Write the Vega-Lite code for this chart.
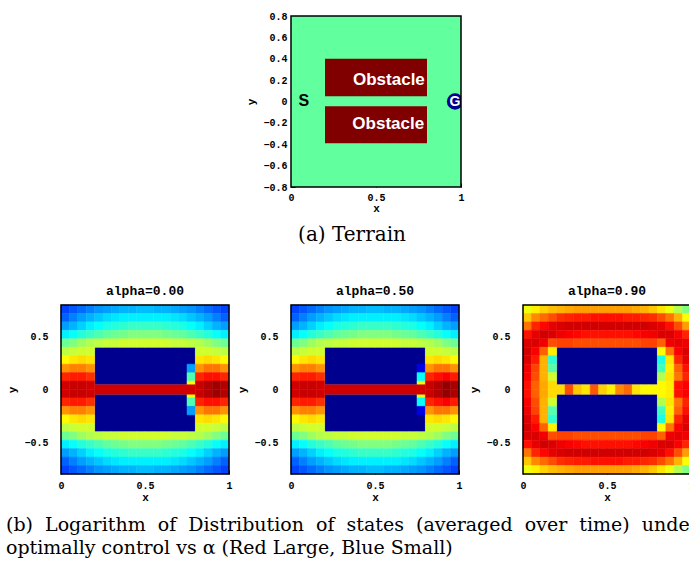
{
"$schema":"https://vega.github.io/schema/vega-lite/v6.json",
"background":"white",
"padding":{"left":5,"top":11,"right":0,"bottom":0},
"title":{"text":["(b) \u00a0Logarithm \u00a0of \u00a0Distribution \u00a0of \u00a0states \u00a0(averaged \u00a0over \u00a0time) \u00a0under","optimally control vs α (Red Large, Blue Small)"],"orient":"bottom","anchor":"start","font":"DejaVu Serif","fontSize":19,"fontWeight":"normal","lineHeight":23,"offset":14,"dx":-1,"color":"black"},
"columns":3,
"align":"each",
"spacing":{"row":40,"column":3},
"resolve":{"scale":{"color":"independent"}},
"datasets":{
"terrain":[{"kind":"free","x":0,"x2":1,"y":-0.8,"y2":0.8},{"kind":"obstacle","x":0.2,"x2":0.8,"y":0.05,"y2":0.4},{"kind":"obstacle","x":0.2,"x2":0.8,"y":-0.39,"y2":-0.045}],
"tlab":[{"x":0.576,"y":0.205,"t":"Obstacle"},{"x":0.572,"y":-0.21,"t":"Obstacle"}],
"start":[{"x":0.075,"y":0.005,"t":"S"}],
"goal":[{"x":0.965,"y":0,"t":"G"}],
"frame":[{"x":0,"x2":1,"y":-0.8,"y2":0.8}],
"obst":[{"x":0.2,"x2":0.8,"y":0.045,"y2":0.4,"v":0},{"x":0.2,"x2":0.8,"y":-0.4,"y2":-0.045,"v":0}],
"ch0":[{"x":0.2,"x2":0.8,"y":-0.045,"y2":0.045,"v":92}],
"ch9":[{"x":0.2,"x2":0.25,"y":-0.045,"y2":0.045,"v":66},{"x":0.25,"x2":0.3,"y":-0.045,"y2":0.045,"v":80},{"x":0.3,"x2":0.35,"y":-0.045,"y2":0.045,"v":68},{"x":0.35,"x2":0.4,"y":-0.045,"y2":0.045,"v":65},{"x":0.4,"x2":0.45,"y":-0.045,"y2":0.045,"v":79},{"x":0.45,"x2":0.5,"y":-0.045,"y2":0.045,"v":67},{"x":0.5,"x2":0.55,"y":-0.045,"y2":0.045,"v":64},{"x":0.55,"x2":0.6,"y":-0.045,"y2":0.045,"v":74},{"x":0.6,"x2":0.65,"y":-0.045,"y2":0.045,"v":77},{"x":0.65,"x2":0.7,"y":-0.045,"y2":0.045,"v":65},{"x":0.7,"x2":0.75,"y":-0.045,"y2":0.045,"v":63},{"x":0.75,"x2":0.8,"y":-0.045,"y2":0.045,"v":63}],
"a0":[
{"c":0,"r":0,"v":19},{"c":1,"r":0,"v":21},{"c":2,"r":0,"v":23},{"c":3,"r":0,"v":25},{"c":4,"r":0,"v":27},{"c":5,"r":0,"v":28},{"c":6,"r":0,"v":29},{"c":7,"r":0,"v":30},{"c":8,"r":0,"v":30},{"c":9,"r":0,"v":31},{"c":10,"r":0,"v":31},{"c":11,"r":0,"v":30},{"c":12,"r":0,"v":30},{"c":13,"r":0,"v":29},{"c":14,"r":0,"v":28},{"c":15,"r":0,"v":27},{"c":16,"r":0,"v":25},{"c":17,"r":0,"v":23},{"c":18,"r":0,"v":21},{"c":19,"r":0,"v":19},
{"c":0,"r":1,"v":22},{"c":1,"r":1,"v":25},{"c":2,"r":1,"v":28},{"c":3,"r":1,"v":30},{"c":4,"r":1,"v":32},{"c":5,"r":1,"v":34},{"c":6,"r":1,"v":35},{"c":7,"r":1,"v":36},{"c":8,"r":1,"v":36},{"c":9,"r":1,"v":36},{"c":10,"r":1,"v":36},{"c":11,"r":1,"v":36},{"c":12,"r":1,"v":36},{"c":13,"r":1,"v":35},{"c":14,"r":1,"v":34},{"c":15,"r":1,"v":32},{"c":16,"r":1,"v":30},{"c":17,"r":1,"v":28},{"c":18,"r":1,"v":25},{"c":19,"r":1,"v":22},
{"c":0,"r":2,"v":28},{"c":1,"r":2,"v":30},{"c":2,"r":2,"v":33},{"c":3,"r":2,"v":36},{"c":4,"r":2,"v":38},{"c":5,"r":2,"v":40},{"c":6,"r":2,"v":41},{"c":7,"r":2,"v":42},{"c":8,"r":2,"v":43},{"c":9,"r":2,"v":43},{"c":10,"r":2,"v":43},{"c":11,"r":2,"v":43},{"c":12,"r":2,"v":42},{"c":13,"r":2,"v":41},{"c":14,"r":2,"v":40},{"c":15,"r":2,"v":38},{"c":16,"r":2,"v":36},{"c":17,"r":2,"v":33},{"c":18,"r":2,"v":30},{"c":19,"r":2,"v":28},
{"c":0,"r":3,"v":36},{"c":1,"r":3,"v":38},{"c":2,"r":3,"v":41},{"c":3,"r":3,"v":43},{"c":4,"r":3,"v":45},{"c":5,"r":3,"v":47},{"c":6,"r":3,"v":48},{"c":7,"r":3,"v":49},{"c":8,"r":3,"v":50},{"c":9,"r":3,"v":50},{"c":10,"r":3,"v":50},{"c":11,"r":3,"v":50},{"c":12,"r":3,"v":49},{"c":13,"r":3,"v":48},{"c":14,"r":3,"v":47},{"c":15,"r":3,"v":45},{"c":16,"r":3,"v":43},{"c":17,"r":3,"v":41},{"c":18,"r":3,"v":38},{"c":19,"r":3,"v":36},
{"c":0,"r":4,"v":48},{"c":1,"r":4,"v":50},{"c":2,"r":4,"v":53},{"c":3,"r":4,"v":55},{"c":4,"r":4,"v":56},{"c":5,"r":4,"v":57},{"c":6,"r":4,"v":57},{"c":7,"r":4,"v":58},{"c":8,"r":4,"v":58},{"c":9,"r":4,"v":58},{"c":10,"r":4,"v":58},{"c":11,"r":4,"v":58},{"c":12,"r":4,"v":58},{"c":13,"r":4,"v":57},{"c":14,"r":4,"v":57},{"c":15,"r":4,"v":56},{"c":16,"r":4,"v":55},{"c":17,"r":4,"v":53},{"c":18,"r":4,"v":50},{"c":19,"r":4,"v":48},
{"c":0,"r":5,"v":56},{"c":1,"r":5,"v":57},{"c":2,"r":5,"v":58},{"c":3,"r":5,"v":58},{"c":16,"r":5,"v":58},{"c":17,"r":5,"v":58},{"c":18,"r":5,"v":57},{"c":19,"r":5,"v":56},
{"c":0,"r":6,"v":63},{"c":1,"r":6,"v":65},{"c":2,"r":6,"v":66},{"c":3,"r":6,"v":65},{"c":16,"r":6,"v":65},{"c":17,"r":6,"v":66},{"c":18,"r":6,"v":65},{"c":19,"r":6,"v":63},
{"c":0,"r":7,"v":73},{"c":1,"r":7,"v":75},{"c":2,"r":7,"v":75},{"c":3,"r":7,"v":73},{"c":15,"r":7,"v":28},{"c":16,"r":7,"v":73},{"c":17,"r":7,"v":76},{"c":18,"r":7,"v":76},{"c":19,"r":7,"v":73},
{"c":0,"r":8,"v":84},{"c":1,"r":8,"v":85},{"c":2,"r":8,"v":85},{"c":3,"r":8,"v":83},{"c":15,"r":8,"v":45},{"c":16,"r":8,"v":84},{"c":17,"r":8,"v":86},{"c":18,"r":8,"v":86},{"c":19,"r":8,"v":84},
{"c":0,"r":9,"v":92},{"c":1,"r":9,"v":93},{"c":2,"r":9,"v":93},{"c":3,"r":9,"v":92},{"c":15,"r":9,"v":62},{"c":16,"r":9,"v":93},{"c":17,"r":9,"v":95},{"c":18,"r":9,"v":97},{"c":19,"r":9,"v":95},
{"c":0,"r":10,"v":92},{"c":1,"r":10,"v":93},{"c":2,"r":10,"v":93},{"c":3,"r":10,"v":92},{"c":15,"r":10,"v":62},{"c":16,"r":10,"v":93},{"c":17,"r":10,"v":95},{"c":18,"r":10,"v":97},{"c":19,"r":10,"v":95},
{"c":0,"r":11,"v":84},{"c":1,"r":11,"v":85},{"c":2,"r":11,"v":85},{"c":3,"r":11,"v":83},{"c":15,"r":11,"v":45},{"c":16,"r":11,"v":84},{"c":17,"r":11,"v":86},{"c":18,"r":11,"v":86},{"c":19,"r":11,"v":84},
{"c":0,"r":12,"v":73},{"c":1,"r":12,"v":75},{"c":2,"r":12,"v":75},{"c":3,"r":12,"v":73},{"c":15,"r":12,"v":28},{"c":16,"r":12,"v":73},{"c":17,"r":12,"v":76},{"c":18,"r":12,"v":76},{"c":19,"r":12,"v":73},
{"c":0,"r":13,"v":63},{"c":1,"r":13,"v":65},{"c":2,"r":13,"v":66},{"c":3,"r":13,"v":65},{"c":16,"r":13,"v":65},{"c":17,"r":13,"v":66},{"c":18,"r":13,"v":65},{"c":19,"r":13,"v":63},
{"c":0,"r":14,"v":56},{"c":1,"r":14,"v":57},{"c":2,"r":14,"v":58},{"c":3,"r":14,"v":58},{"c":16,"r":14,"v":58},{"c":17,"r":14,"v":58},{"c":18,"r":14,"v":57},{"c":19,"r":14,"v":56},
{"c":0,"r":15,"v":48},{"c":1,"r":15,"v":50},{"c":2,"r":15,"v":53},{"c":3,"r":15,"v":55},{"c":4,"r":15,"v":56},{"c":5,"r":15,"v":57},{"c":6,"r":15,"v":57},{"c":7,"r":15,"v":58},{"c":8,"r":15,"v":58},{"c":9,"r":15,"v":58},{"c":10,"r":15,"v":58},{"c":11,"r":15,"v":58},{"c":12,"r":15,"v":58},{"c":13,"r":15,"v":57},{"c":14,"r":15,"v":57},{"c":15,"r":15,"v":56},{"c":16,"r":15,"v":55},{"c":17,"r":15,"v":53},{"c":18,"r":15,"v":50},{"c":19,"r":15,"v":48},
{"c":0,"r":16,"v":36},{"c":1,"r":16,"v":38},{"c":2,"r":16,"v":41},{"c":3,"r":16,"v":43},{"c":4,"r":16,"v":45},{"c":5,"r":16,"v":47},{"c":6,"r":16,"v":48},{"c":7,"r":16,"v":49},{"c":8,"r":16,"v":50},{"c":9,"r":16,"v":50},{"c":10,"r":16,"v":50},{"c":11,"r":16,"v":50},{"c":12,"r":16,"v":49},{"c":13,"r":16,"v":48},{"c":14,"r":16,"v":47},{"c":15,"r":16,"v":45},{"c":16,"r":16,"v":43},{"c":17,"r":16,"v":41},{"c":18,"r":16,"v":38},{"c":19,"r":16,"v":36},
{"c":0,"r":17,"v":28},{"c":1,"r":17,"v":30},{"c":2,"r":17,"v":33},{"c":3,"r":17,"v":36},{"c":4,"r":17,"v":38},{"c":5,"r":17,"v":40},{"c":6,"r":17,"v":41},{"c":7,"r":17,"v":42},{"c":8,"r":17,"v":43},{"c":9,"r":17,"v":43},{"c":10,"r":17,"v":43},{"c":11,"r":17,"v":43},{"c":12,"r":17,"v":42},{"c":13,"r":17,"v":41},{"c":14,"r":17,"v":40},{"c":15,"r":17,"v":38},{"c":16,"r":17,"v":36},{"c":17,"r":17,"v":33},{"c":18,"r":17,"v":30},{"c":19,"r":17,"v":28},
{"c":0,"r":18,"v":22},{"c":1,"r":18,"v":25},{"c":2,"r":18,"v":28},{"c":3,"r":18,"v":30},{"c":4,"r":18,"v":32},{"c":5,"r":18,"v":34},{"c":6,"r":18,"v":35},{"c":7,"r":18,"v":36},{"c":8,"r":18,"v":36},{"c":9,"r":18,"v":36},{"c":10,"r":18,"v":36},{"c":11,"r":18,"v":36},{"c":12,"r":18,"v":36},{"c":13,"r":18,"v":35},{"c":14,"r":18,"v":34},{"c":15,"r":18,"v":32},{"c":16,"r":18,"v":30},{"c":17,"r":18,"v":28},{"c":18,"r":18,"v":25},{"c":19,"r":18,"v":22},
{"c":0,"r":19,"v":19},{"c":1,"r":19,"v":21},{"c":2,"r":19,"v":23},{"c":3,"r":19,"v":25},{"c":4,"r":19,"v":27},{"c":5,"r":19,"v":28},{"c":6,"r":19,"v":29},{"c":7,"r":19,"v":30},{"c":8,"r":19,"v":30},{"c":9,"r":19,"v":31},{"c":10,"r":19,"v":31},{"c":11,"r":19,"v":30},{"c":12,"r":19,"v":30},{"c":13,"r":19,"v":29},{"c":14,"r":19,"v":28},{"c":15,"r":19,"v":27},{"c":16,"r":19,"v":25},{"c":17,"r":19,"v":23},{"c":18,"r":19,"v":21},{"c":19,"r":19,"v":19}
],
"a5":[
{"c":0,"r":0,"v":19},{"c":1,"r":0,"v":21},{"c":2,"r":0,"v":23},{"c":3,"r":0,"v":25},{"c":4,"r":0,"v":27},{"c":5,"r":0,"v":28},{"c":6,"r":0,"v":29},{"c":7,"r":0,"v":30},{"c":8,"r":0,"v":30},{"c":9,"r":0,"v":31},{"c":10,"r":0,"v":31},{"c":11,"r":0,"v":30},{"c":12,"r":0,"v":30},{"c":13,"r":0,"v":29},{"c":14,"r":0,"v":28},{"c":15,"r":0,"v":27},{"c":16,"r":0,"v":25},{"c":17,"r":0,"v":23},{"c":18,"r":0,"v":21},{"c":19,"r":0,"v":19},
{"c":0,"r":1,"v":22},{"c":1,"r":1,"v":25},{"c":2,"r":1,"v":28},{"c":3,"r":1,"v":30},{"c":4,"r":1,"v":32},{"c":5,"r":1,"v":34},{"c":6,"r":1,"v":35},{"c":7,"r":1,"v":36},{"c":8,"r":1,"v":36},{"c":9,"r":1,"v":36},{"c":10,"r":1,"v":36},{"c":11,"r":1,"v":36},{"c":12,"r":1,"v":36},{"c":13,"r":1,"v":35},{"c":14,"r":1,"v":34},{"c":15,"r":1,"v":32},{"c":16,"r":1,"v":30},{"c":17,"r":1,"v":28},{"c":18,"r":1,"v":25},{"c":19,"r":1,"v":22},
{"c":0,"r":2,"v":28},{"c":1,"r":2,"v":30},{"c":2,"r":2,"v":33},{"c":3,"r":2,"v":36},{"c":4,"r":2,"v":38},{"c":5,"r":2,"v":40},{"c":6,"r":2,"v":41},{"c":7,"r":2,"v":42},{"c":8,"r":2,"v":43},{"c":9,"r":2,"v":43},{"c":10,"r":2,"v":43},{"c":11,"r":2,"v":43},{"c":12,"r":2,"v":42},{"c":13,"r":2,"v":41},{"c":14,"r":2,"v":40},{"c":15,"r":2,"v":38},{"c":16,"r":2,"v":36},{"c":17,"r":2,"v":33},{"c":18,"r":2,"v":30},{"c":19,"r":2,"v":28},
{"c":0,"r":3,"v":36},{"c":1,"r":3,"v":38},{"c":2,"r":3,"v":41},{"c":3,"r":3,"v":43},{"c":4,"r":3,"v":45},{"c":5,"r":3,"v":47},{"c":6,"r":3,"v":48},{"c":7,"r":3,"v":49},{"c":8,"r":3,"v":50},{"c":9,"r":3,"v":50},{"c":10,"r":3,"v":50},{"c":11,"r":3,"v":50},{"c":12,"r":3,"v":49},{"c":13,"r":3,"v":48},{"c":14,"r":3,"v":47},{"c":15,"r":3,"v":45},{"c":16,"r":3,"v":43},{"c":17,"r":3,"v":41},{"c":18,"r":3,"v":38},{"c":19,"r":3,"v":36},
{"c":0,"r":4,"v":48},{"c":1,"r":4,"v":50},{"c":2,"r":4,"v":53},{"c":3,"r":4,"v":55},{"c":4,"r":4,"v":56},{"c":5,"r":4,"v":57},{"c":6,"r":4,"v":57},{"c":7,"r":4,"v":58},{"c":8,"r":4,"v":58},{"c":9,"r":4,"v":58},{"c":10,"r":4,"v":58},{"c":11,"r":4,"v":58},{"c":12,"r":4,"v":58},{"c":13,"r":4,"v":57},{"c":14,"r":4,"v":57},{"c":15,"r":4,"v":56},{"c":16,"r":4,"v":55},{"c":17,"r":4,"v":53},{"c":18,"r":4,"v":50},{"c":19,"r":4,"v":48},
{"c":0,"r":5,"v":56},{"c":1,"r":5,"v":57},{"c":2,"r":5,"v":58},{"c":3,"r":5,"v":58},{"c":16,"r":5,"v":58},{"c":17,"r":5,"v":58},{"c":18,"r":5,"v":57},{"c":19,"r":5,"v":56},
{"c":0,"r":6,"v":63},{"c":1,"r":6,"v":65},{"c":2,"r":6,"v":66},{"c":3,"r":6,"v":65},{"c":16,"r":6,"v":65},{"c":17,"r":6,"v":66},{"c":18,"r":6,"v":65},{"c":19,"r":6,"v":63},
{"c":0,"r":7,"v":73},{"c":1,"r":7,"v":75},{"c":2,"r":7,"v":75},{"c":3,"r":7,"v":73},{"c":15,"r":7,"v":10},{"c":16,"r":7,"v":73},{"c":17,"r":7,"v":76},{"c":18,"r":7,"v":76},{"c":19,"r":7,"v":73},
{"c":0,"r":8,"v":84},{"c":1,"r":8,"v":85},{"c":2,"r":8,"v":85},{"c":3,"r":8,"v":83},{"c":15,"r":8,"v":38},{"c":16,"r":8,"v":84},{"c":17,"r":8,"v":86},{"c":18,"r":8,"v":88},{"c":19,"r":8,"v":85},
{"c":0,"r":9,"v":92},{"c":1,"r":9,"v":93},{"c":2,"r":9,"v":93},{"c":3,"r":9,"v":92},{"c":15,"r":9,"v":60},{"c":16,"r":9,"v":93},{"c":17,"r":9,"v":95},{"c":18,"r":9,"v":98},{"c":19,"r":9,"v":96},
{"c":0,"r":10,"v":92},{"c":1,"r":10,"v":93},{"c":2,"r":10,"v":93},{"c":3,"r":10,"v":92},{"c":15,"r":10,"v":60},{"c":16,"r":10,"v":93},{"c":17,"r":10,"v":95},{"c":18,"r":10,"v":98},{"c":19,"r":10,"v":96},
{"c":0,"r":11,"v":84},{"c":1,"r":11,"v":85},{"c":2,"r":11,"v":85},{"c":3,"r":11,"v":83},{"c":15,"r":11,"v":38},{"c":16,"r":11,"v":84},{"c":17,"r":11,"v":86},{"c":18,"r":11,"v":88},{"c":19,"r":11,"v":85},
{"c":0,"r":12,"v":73},{"c":1,"r":12,"v":75},{"c":2,"r":12,"v":75},{"c":3,"r":12,"v":73},{"c":15,"r":12,"v":10},{"c":16,"r":12,"v":73},{"c":17,"r":12,"v":76},{"c":18,"r":12,"v":76},{"c":19,"r":12,"v":73},
{"c":0,"r":13,"v":63},{"c":1,"r":13,"v":65},{"c":2,"r":13,"v":66},{"c":3,"r":13,"v":65},{"c":16,"r":13,"v":65},{"c":17,"r":13,"v":66},{"c":18,"r":13,"v":65},{"c":19,"r":13,"v":63},
{"c":0,"r":14,"v":56},{"c":1,"r":14,"v":57},{"c":2,"r":14,"v":58},{"c":3,"r":14,"v":58},{"c":16,"r":14,"v":58},{"c":17,"r":14,"v":58},{"c":18,"r":14,"v":57},{"c":19,"r":14,"v":56},
{"c":0,"r":15,"v":48},{"c":1,"r":15,"v":50},{"c":2,"r":15,"v":53},{"c":3,"r":15,"v":55},{"c":4,"r":15,"v":56},{"c":5,"r":15,"v":57},{"c":6,"r":15,"v":57},{"c":7,"r":15,"v":58},{"c":8,"r":15,"v":58},{"c":9,"r":15,"v":58},{"c":10,"r":15,"v":58},{"c":11,"r":15,"v":58},{"c":12,"r":15,"v":58},{"c":13,"r":15,"v":57},{"c":14,"r":15,"v":57},{"c":15,"r":15,"v":56},{"c":16,"r":15,"v":55},{"c":17,"r":15,"v":53},{"c":18,"r":15,"v":50},{"c":19,"r":15,"v":48},
{"c":0,"r":16,"v":36},{"c":1,"r":16,"v":38},{"c":2,"r":16,"v":41},{"c":3,"r":16,"v":43},{"c":4,"r":16,"v":45},{"c":5,"r":16,"v":47},{"c":6,"r":16,"v":48},{"c":7,"r":16,"v":49},{"c":8,"r":16,"v":50},{"c":9,"r":16,"v":50},{"c":10,"r":16,"v":50},{"c":11,"r":16,"v":50},{"c":12,"r":16,"v":49},{"c":13,"r":16,"v":48},{"c":14,"r":16,"v":47},{"c":15,"r":16,"v":45},{"c":16,"r":16,"v":43},{"c":17,"r":16,"v":41},{"c":18,"r":16,"v":38},{"c":19,"r":16,"v":36},
{"c":0,"r":17,"v":28},{"c":1,"r":17,"v":30},{"c":2,"r":17,"v":33},{"c":3,"r":17,"v":36},{"c":4,"r":17,"v":38},{"c":5,"r":17,"v":40},{"c":6,"r":17,"v":41},{"c":7,"r":17,"v":42},{"c":8,"r":17,"v":43},{"c":9,"r":17,"v":43},{"c":10,"r":17,"v":43},{"c":11,"r":17,"v":43},{"c":12,"r":17,"v":42},{"c":13,"r":17,"v":41},{"c":14,"r":17,"v":40},{"c":15,"r":17,"v":38},{"c":16,"r":17,"v":36},{"c":17,"r":17,"v":33},{"c":18,"r":17,"v":30},{"c":19,"r":17,"v":28},
{"c":0,"r":18,"v":22},{"c":1,"r":18,"v":25},{"c":2,"r":18,"v":28},{"c":3,"r":18,"v":30},{"c":4,"r":18,"v":32},{"c":5,"r":18,"v":34},{"c":6,"r":18,"v":35},{"c":7,"r":18,"v":36},{"c":8,"r":18,"v":36},{"c":9,"r":18,"v":36},{"c":10,"r":18,"v":36},{"c":11,"r":18,"v":36},{"c":12,"r":18,"v":36},{"c":13,"r":18,"v":35},{"c":14,"r":18,"v":34},{"c":15,"r":18,"v":32},{"c":16,"r":18,"v":30},{"c":17,"r":18,"v":28},{"c":18,"r":18,"v":25},{"c":19,"r":18,"v":22},
{"c":0,"r":19,"v":19},{"c":1,"r":19,"v":21},{"c":2,"r":19,"v":23},{"c":3,"r":19,"v":25},{"c":4,"r":19,"v":27},{"c":5,"r":19,"v":28},{"c":6,"r":19,"v":29},{"c":7,"r":19,"v":30},{"c":8,"r":19,"v":30},{"c":9,"r":19,"v":31},{"c":10,"r":19,"v":31},{"c":11,"r":19,"v":30},{"c":12,"r":19,"v":30},{"c":13,"r":19,"v":29},{"c":14,"r":19,"v":28},{"c":15,"r":19,"v":27},{"c":16,"r":19,"v":25},{"c":17,"r":19,"v":23},{"c":18,"r":19,"v":21},{"c":19,"r":19,"v":19}
],
"a9":[
{"c":0,"r":0,"v":61},{"c":1,"r":0,"v":64},{"c":2,"r":0,"v":67},{"c":3,"r":0,"v":69},{"c":4,"r":0,"v":70},{"c":5,"r":0,"v":71},{"c":6,"r":0,"v":72},{"c":7,"r":0,"v":72},{"c":8,"r":0,"v":72},{"c":9,"r":0,"v":72},{"c":10,"r":0,"v":72},{"c":11,"r":0,"v":72},{"c":12,"r":0,"v":72},{"c":13,"r":0,"v":71},{"c":14,"r":0,"v":70},{"c":15,"r":0,"v":68},{"c":16,"r":0,"v":65},{"c":17,"r":0,"v":61},{"c":18,"r":0,"v":55},{"c":19,"r":0,"v":50},
{"c":0,"r":1,"v":68},{"c":1,"r":1,"v":74},{"c":2,"r":1,"v":77},{"c":3,"r":1,"v":80},{"c":4,"r":1,"v":83},{"c":5,"r":1,"v":84},{"c":6,"r":1,"v":85},{"c":7,"r":1,"v":85},{"c":8,"r":1,"v":86},{"c":9,"r":1,"v":86},{"c":10,"r":1,"v":86},{"c":11,"r":1,"v":86},{"c":12,"r":1,"v":85},{"c":13,"r":1,"v":85},{"c":14,"r":1,"v":84},{"c":15,"r":1,"v":83},{"c":16,"r":1,"v":80},{"c":17,"r":1,"v":76},{"c":18,"r":1,"v":70},{"c":19,"r":1,"v":62},
{"c":0,"r":2,"v":76},{"c":1,"r":2,"v":84},{"c":2,"r":2,"v":87},{"c":3,"r":2,"v":90},{"c":4,"r":2,"v":91},{"c":5,"r":2,"v":92},{"c":6,"r":2,"v":92},{"c":7,"r":2,"v":92},{"c":8,"r":2,"v":92},{"c":9,"r":2,"v":92},{"c":10,"r":2,"v":92},{"c":11,"r":2,"v":92},{"c":12,"r":2,"v":92},{"c":13,"r":2,"v":92},{"c":14,"r":2,"v":92},{"c":15,"r":2,"v":91},{"c":16,"r":2,"v":90},{"c":17,"r":2,"v":86},{"c":18,"r":2,"v":80},{"c":19,"r":2,"v":72},
{"c":0,"r":3,"v":86},{"c":1,"r":3,"v":90},{"c":2,"r":3,"v":92},{"c":3,"r":3,"v":91},{"c":4,"r":3,"v":89},{"c":5,"r":3,"v":88},{"c":6,"r":3,"v":87},{"c":7,"r":3,"v":86},{"c":8,"r":3,"v":86},{"c":9,"r":3,"v":86},{"c":10,"r":3,"v":86},{"c":11,"r":3,"v":86},{"c":12,"r":3,"v":86},{"c":13,"r":3,"v":87},{"c":14,"r":3,"v":88},{"c":15,"r":3,"v":89},{"c":16,"r":3,"v":91},{"c":17,"r":3,"v":91},{"c":18,"r":3,"v":88},{"c":19,"r":3,"v":84},
{"c":0,"r":4,"v":91},{"c":1,"r":4,"v":91},{"c":2,"r":4,"v":89},{"c":3,"r":4,"v":80},{"c":4,"r":4,"v":81},{"c":5,"r":4,"v":81},{"c":6,"r":4,"v":80},{"c":7,"r":4,"v":80},{"c":8,"r":4,"v":80},{"c":9,"r":4,"v":80},{"c":10,"r":4,"v":80},{"c":11,"r":4,"v":80},{"c":12,"r":4,"v":80},{"c":13,"r":4,"v":80},{"c":14,"r":4,"v":81},{"c":15,"r":4,"v":81},{"c":16,"r":4,"v":78},{"c":17,"r":4,"v":89},{"c":18,"r":4,"v":90},{"c":19,"r":4,"v":89},
{"c":0,"r":5,"v":92},{"c":1,"r":5,"v":88},{"c":2,"r":5,"v":78},{"c":3,"r":5,"v":64},{"c":16,"r":5,"v":62},{"c":17,"r":5,"v":76},{"c":18,"r":5,"v":88},{"c":19,"r":5,"v":91},
{"c":0,"r":6,"v":91},{"c":1,"r":6,"v":85},{"c":2,"r":6,"v":70},{"c":3,"r":6,"v":42},{"c":16,"r":6,"v":40},{"c":17,"r":6,"v":65},{"c":18,"r":6,"v":84},{"c":19,"r":6,"v":90},
{"c":0,"r":7,"v":89},{"c":1,"r":7,"v":81},{"c":2,"r":7,"v":70},{"c":3,"r":7,"v":46},{"c":16,"r":7,"v":44},{"c":17,"r":7,"v":64},{"c":18,"r":7,"v":78},{"c":19,"r":7,"v":86},
{"c":0,"r":8,"v":88},{"c":1,"r":8,"v":80},{"c":2,"r":8,"v":70},{"c":3,"r":8,"v":58},{"c":16,"r":8,"v":55},{"c":17,"r":8,"v":65},{"c":18,"r":8,"v":76},{"c":19,"r":8,"v":84},
{"c":0,"r":9,"v":86},{"c":1,"r":9,"v":78},{"c":2,"r":9,"v":71},{"c":3,"r":9,"v":66},{"c":16,"r":9,"v":63},{"c":17,"r":9,"v":64},{"c":18,"r":9,"v":86},{"c":19,"r":9,"v":88},
{"c":0,"r":10,"v":86},{"c":1,"r":10,"v":78},{"c":2,"r":10,"v":71},{"c":3,"r":10,"v":66},{"c":16,"r":10,"v":63},{"c":17,"r":10,"v":64},{"c":18,"r":10,"v":86},{"c":19,"r":10,"v":88},
{"c":0,"r":11,"v":88},{"c":1,"r":11,"v":80},{"c":2,"r":11,"v":70},{"c":3,"r":11,"v":58},{"c":16,"r":11,"v":55},{"c":17,"r":11,"v":65},{"c":18,"r":11,"v":76},{"c":19,"r":11,"v":84},
{"c":0,"r":12,"v":89},{"c":1,"r":12,"v":81},{"c":2,"r":12,"v":70},{"c":3,"r":12,"v":46},{"c":16,"r":12,"v":44},{"c":17,"r":12,"v":64},{"c":18,"r":12,"v":78},{"c":19,"r":12,"v":86},
{"c":0,"r":13,"v":91},{"c":1,"r":13,"v":85},{"c":2,"r":13,"v":70},{"c":3,"r":13,"v":42},{"c":16,"r":13,"v":40},{"c":17,"r":13,"v":65},{"c":18,"r":13,"v":84},{"c":19,"r":13,"v":90},
{"c":0,"r":14,"v":92},{"c":1,"r":14,"v":88},{"c":2,"r":14,"v":78},{"c":3,"r":14,"v":64},{"c":16,"r":14,"v":62},{"c":17,"r":14,"v":76},{"c":18,"r":14,"v":88},{"c":19,"r":14,"v":91},
{"c":0,"r":15,"v":91},{"c":1,"r":15,"v":91},{"c":2,"r":15,"v":89},{"c":3,"r":15,"v":80},{"c":4,"r":15,"v":81},{"c":5,"r":15,"v":81},{"c":6,"r":15,"v":80},{"c":7,"r":15,"v":80},{"c":8,"r":15,"v":80},{"c":9,"r":15,"v":80},{"c":10,"r":15,"v":80},{"c":11,"r":15,"v":80},{"c":12,"r":15,"v":80},{"c":13,"r":15,"v":80},{"c":14,"r":15,"v":81},{"c":15,"r":15,"v":81},{"c":16,"r":15,"v":78},{"c":17,"r":15,"v":89},{"c":18,"r":15,"v":90},{"c":19,"r":15,"v":89},
{"c":0,"r":16,"v":86},{"c":1,"r":16,"v":90},{"c":2,"r":16,"v":92},{"c":3,"r":16,"v":91},{"c":4,"r":16,"v":89},{"c":5,"r":16,"v":88},{"c":6,"r":16,"v":87},{"c":7,"r":16,"v":86},{"c":8,"r":16,"v":86},{"c":9,"r":16,"v":86},{"c":10,"r":16,"v":86},{"c":11,"r":16,"v":86},{"c":12,"r":16,"v":86},{"c":13,"r":16,"v":87},{"c":14,"r":16,"v":88},{"c":15,"r":16,"v":89},{"c":16,"r":16,"v":91},{"c":17,"r":16,"v":91},{"c":18,"r":16,"v":88},{"c":19,"r":16,"v":84},
{"c":0,"r":17,"v":76},{"c":1,"r":17,"v":84},{"c":2,"r":17,"v":87},{"c":3,"r":17,"v":90},{"c":4,"r":17,"v":91},{"c":5,"r":17,"v":92},{"c":6,"r":17,"v":92},{"c":7,"r":17,"v":92},{"c":8,"r":17,"v":92},{"c":9,"r":17,"v":92},{"c":10,"r":17,"v":92},{"c":11,"r":17,"v":92},{"c":12,"r":17,"v":92},{"c":13,"r":17,"v":92},{"c":14,"r":17,"v":92},{"c":15,"r":17,"v":91},{"c":16,"r":17,"v":90},{"c":17,"r":17,"v":86},{"c":18,"r":17,"v":80},{"c":19,"r":17,"v":72},
{"c":0,"r":18,"v":68},{"c":1,"r":18,"v":74},{"c":2,"r":18,"v":77},{"c":3,"r":18,"v":80},{"c":4,"r":18,"v":83},{"c":5,"r":18,"v":84},{"c":6,"r":18,"v":85},{"c":7,"r":18,"v":85},{"c":8,"r":18,"v":86},{"c":9,"r":18,"v":86},{"c":10,"r":18,"v":86},{"c":11,"r":18,"v":86},{"c":12,"r":18,"v":85},{"c":13,"r":18,"v":85},{"c":14,"r":18,"v":84},{"c":15,"r":18,"v":83},{"c":16,"r":18,"v":80},{"c":17,"r":18,"v":76},{"c":18,"r":18,"v":70},{"c":19,"r":18,"v":62},
{"c":0,"r":19,"v":61},{"c":1,"r":19,"v":64},{"c":2,"r":19,"v":67},{"c":3,"r":19,"v":69},{"c":4,"r":19,"v":70},{"c":5,"r":19,"v":71},{"c":6,"r":19,"v":72},{"c":7,"r":19,"v":72},{"c":8,"r":19,"v":72},{"c":9,"r":19,"v":72},{"c":10,"r":19,"v":72},{"c":11,"r":19,"v":72},{"c":12,"r":19,"v":72},{"c":13,"r":19,"v":71},{"c":14,"r":19,"v":70},{"c":15,"r":19,"v":68},{"c":16,"r":19,"v":65},{"c":17,"r":19,"v":61},{"c":18,"r":19,"v":55},{"c":19,"r":19,"v":50}
]
},
"concat":[
{"width":1,"height":1,"data":{"values":[]},"mark":"point"},
{"width":170,"height":171,
 "title":{"text":"(a) Terrain","orient":"bottom","font":"DejaVu Serif","fontSize":20,"fontWeight":"normal","offset":12,"dx":-24,"anchor":"middle"},
 "layer":[
  {"data":{"name":"terrain"},"mark":{"type":"rect"},"encoding":{
   "x":{"field":"x","type":"quantitative","scale":{"domain":[0,1],"nice":false,"zero":false},"axis":{"values":[0,0.5,1],"format":"~g","title":"x","labelFontSize":10,"titleFontSize":11,"labelPadding":9,"titlePadding":0,"tickSize":-4}},
   "x2":{"field":"x2"},
   "y":{"field":"y","type":"quantitative","scale":{"domain":[-0.8,0.8],"nice":false,"zero":false},"axis":{"values":[-0.8,-0.6,-0.4,-0.2,0,0.2,0.4,0.6,0.8],"format":"~g","title":"y","labelFontSize":10,"titleFontSize":11,"labelPadding":8,"titlePadding":6,"tickSize":-4,"labelOverlap":false,"labelSeparation":-30}},
   "y2":{"field":"y2"},
   "color":{"field":"kind","type":"nominal","scale":{"domain":["free","obstacle"],"range":["#62ff9e","#800000"]},"legend":null}}},
  {"data":{"name":"tlab"},"mark":{"type":"text","font":"Liberation Sans","fontWeight":"bold","fontSize":17,"color":"white"},"encoding":{
   "x":{"field":"x","type":"quantitative","scale":{"domain":[0,1],"nice":false,"zero":false},"axis":{"values":[0,0.5,1],"format":"~g","title":"x","labelFontSize":10,"titleFontSize":11,"labelPadding":9,"titlePadding":0,"tickSize":-4}},
   "y":{"field":"y","type":"quantitative","scale":{"domain":[-0.8,0.8],"nice":false,"zero":false},"axis":{"values":[-0.8,-0.6,-0.4,-0.2,0,0.2,0.4,0.6,0.8],"format":"~g","title":"y","labelFontSize":10,"titleFontSize":11,"labelPadding":8,"titlePadding":6,"tickSize":-4,"labelOverlap":false,"labelSeparation":-30}},
   "text":{"field":"t"}}},
  {"data":{"name":"start"},"mark":{"type":"text","font":"Liberation Sans","fontWeight":"bold","fontSize":16,"color":"black"},"encoding":{
   "x":{"field":"x","type":"quantitative","scale":{"domain":[0,1],"nice":false,"zero":false},"axis":{"values":[0,0.5,1],"format":"~g","title":"x","labelFontSize":10,"titleFontSize":11,"labelPadding":9,"titlePadding":0,"tickSize":-4}},
   "y":{"field":"y","type":"quantitative","scale":{"domain":[-0.8,0.8],"nice":false,"zero":false},"axis":{"values":[-0.8,-0.6,-0.4,-0.2,0,0.2,0.4,0.6,0.8],"format":"~g","title":"y","labelFontSize":10,"titleFontSize":11,"labelPadding":8,"titlePadding":6,"tickSize":-4,"labelOverlap":false,"labelSeparation":-30}},
   "text":{"field":"t"}}},
  {"data":{"name":"goal"},"mark":{"type":"point","filled":true,"color":"#00008f","opacity":1,"size":270,"clip":true},"encoding":{
   "x":{"field":"x","type":"quantitative","scale":{"domain":[0,1],"nice":false,"zero":false},"axis":{"values":[0,0.5,1],"format":"~g","title":"x","labelFontSize":10,"titleFontSize":11,"labelPadding":9,"titlePadding":0,"tickSize":-4}},
   "y":{"field":"y","type":"quantitative","scale":{"domain":[-0.8,0.8],"nice":false,"zero":false},"axis":{"values":[-0.8,-0.6,-0.4,-0.2,0,0.2,0.4,0.6,0.8],"format":"~g","title":"y","labelFontSize":10,"titleFontSize":11,"labelPadding":8,"titlePadding":6,"tickSize":-4,"labelOverlap":false,"labelSeparation":-30}}}},
  {"data":{"name":"goal"},"mark":{"type":"text","font":"Liberation Sans","fontWeight":"bold","fontSize":14,"color":"white"},"encoding":{
   "x":{"field":"x","type":"quantitative","scale":{"domain":[0,1],"nice":false,"zero":false},"axis":{"values":[0,0.5,1],"format":"~g","title":"x","labelFontSize":10,"titleFontSize":11,"labelPadding":9,"titlePadding":0,"tickSize":-4}},
   "y":{"field":"y","type":"quantitative","scale":{"domain":[-0.8,0.8],"nice":false,"zero":false},"axis":{"values":[-0.8,-0.6,-0.4,-0.2,0,0.2,0.4,0.6,0.8],"format":"~g","title":"y","labelFontSize":10,"titleFontSize":11,"labelPadding":8,"titlePadding":6,"tickSize":-4,"labelOverlap":false,"labelSeparation":-30}},
   "text":{"field":"t"}}},
  {"data":{"name":"frame"},"mark":{"type":"rect","fillOpacity":0,"stroke":"black","strokeWidth":1.5},"encoding":{
   "x":{"field":"x","type":"quantitative","scale":{"domain":[0,1],"nice":false,"zero":false},"axis":{"values":[0,0.5,1],"format":"~g","title":"x","labelFontSize":10,"titleFontSize":11,"labelPadding":9,"titlePadding":0,"tickSize":-4}},
   "x2":{"field":"x2"},
   "y":{"field":"y","type":"quantitative","scale":{"domain":[-0.8,0.8],"nice":false,"zero":false},"axis":{"values":[-0.8,-0.6,-0.4,-0.2,0,0.2,0.4,0.6,0.8],"format":"~g","title":"y","labelFontSize":10,"titleFontSize":11,"labelPadding":8,"titlePadding":6,"tickSize":-4,"labelOverlap":false,"labelSeparation":-30}},
   "y2":{"field":"y2"}}}
 ]},
{"width":1,"height":1,"data":{"values":[]},"mark":"point"},
{"width":168,"height":169,"title":{"text":"alpha=0.00"},
 "layer":[
  {"data":{"name":"obst"},"mark":{"type":"rect"},"encoding":{
   "x":{"field":"x","type":"quantitative","scale":{"domain":[0,1],"nice":false,"zero":false},"axis":{"values":[0,0.5,1],"format":"~g","title":"x","labelFontSize":10,"titleFontSize":11,"labelPadding":10,"titlePadding":1,"tickSize":-4}},
   "x2":{"field":"x2"},
   "y":{"field":"y","type":"quantitative","scale":{"domain":[-0.8,0.8],"nice":false,"zero":false},"axis":{"values":[-0.5,0,0.5],"format":"~g","title":"y","labelFontSize":10,"titleFontSize":11,"labelPadding":17,"titlePadding":6,"tickSize":-4}},
   "y2":{"field":"y2"},
   "color":{"field":"v","type":"quantitative","scale":{"domain":[0,12.5,37.5,62.5,87.5,100],"range":["#00008f","#0000ff","#00ffff","#ffff00","#ff0000","#800000"],"interpolate":"rgb"},"legend":null}}},
  {"data":{"name":"a0"},"mark":{"type":"rect","strokeWidth":0.5},"encoding":{
   "x":{"field":"c","type":"ordinal","axis":null,"scale":{"domain":[0,1,2,3,4,5,6,7,8,9,10,11,12,13,14,15,16,17,18,19],"paddingInner":0,"paddingOuter":0}},
   "y":{"field":"r","type":"ordinal","axis":null,"scale":{"domain":[0,1,2,3,4,5,6,7,8,9,10,11,12,13,14,15,16,17,18,19],"paddingInner":0,"paddingOuter":0}},
   "color":{"field":"v","type":"quantitative","scale":{"domain":[0,12.5,37.5,62.5,87.5,100],"range":["#00008f","#0000ff","#00ffff","#ffff00","#ff0000","#800000"],"interpolate":"rgb"},"legend":null},
   "stroke":{"field":"v","type":"quantitative","scale":{"domain":[0,12.5,37.5,62.5,87.5,100],"range":["#00008f","#0000ff","#00ffff","#ffff00","#ff0000","#800000"],"interpolate":"rgb"},"legend":null}}},
  {"data":{"name":"ch0"},"mark":{"type":"rect","strokeWidth":0.5},"encoding":{
   "x":{"field":"x","type":"quantitative","scale":{"domain":[0,1],"nice":false,"zero":false},"axis":null},
   "x2":{"field":"x2"},
   "y":{"field":"y","type":"quantitative","scale":{"domain":[-0.8,0.8],"nice":false,"zero":false},"axis":null},
   "y2":{"field":"y2"},
   "color":{"field":"v","type":"quantitative","scale":{"domain":[0,12.5,37.5,62.5,87.5,100],"range":["#00008f","#0000ff","#00ffff","#ffff00","#ff0000","#800000"],"interpolate":"rgb"},"legend":null},
   "stroke":{"field":"v","type":"quantitative","scale":{"domain":[0,12.5,37.5,62.5,87.5,100],"range":["#00008f","#0000ff","#00ffff","#ffff00","#ff0000","#800000"],"interpolate":"rgb"},"legend":null}}},
  {"data":{"name":"frame"},"mark":{"type":"rect","fillOpacity":0,"stroke":"black","strokeWidth":1.5},"encoding":{
   "x":{"field":"x","type":"quantitative","scale":{"domain":[0,1],"nice":false,"zero":false},"axis":null},
   "x2":{"field":"x2"},
   "y":{"field":"y","type":"quantitative","scale":{"domain":[-0.8,0.8],"nice":false,"zero":false},"axis":null},
   "y2":{"field":"y2"}}}
 ],
 "resolve":{"scale":{"x":"independent","y":"independent"}}},
{"width":168,"height":169,"title":{"text":"alpha=0.50"},
 "layer":[
  {"data":{"name":"obst"},"mark":{"type":"rect"},"encoding":{
   "x":{"field":"x","type":"quantitative","scale":{"domain":[0,1],"nice":false,"zero":false},"axis":{"values":[0,0.5,1],"format":"~g","title":"x","labelFontSize":10,"titleFontSize":11,"labelPadding":10,"titlePadding":1,"tickSize":-4}},
   "x2":{"field":"x2"},
   "y":{"field":"y","type":"quantitative","scale":{"domain":[-0.8,0.8],"nice":false,"zero":false},"axis":{"values":[-0.5,0,0.5],"format":"~g","title":"y","labelFontSize":10,"titleFontSize":11,"labelPadding":17,"titlePadding":6,"tickSize":-4}},
   "y2":{"field":"y2"},
   "color":{"field":"v","type":"quantitative","scale":{"domain":[0,12.5,37.5,62.5,87.5,100],"range":["#00008f","#0000ff","#00ffff","#ffff00","#ff0000","#800000"],"interpolate":"rgb"},"legend":null}}},
  {"data":{"name":"a5"},"mark":{"type":"rect","strokeWidth":0.5},"encoding":{
   "x":{"field":"c","type":"ordinal","axis":null,"scale":{"domain":[0,1,2,3,4,5,6,7,8,9,10,11,12,13,14,15,16,17,18,19],"paddingInner":0,"paddingOuter":0}},
   "y":{"field":"r","type":"ordinal","axis":null,"scale":{"domain":[0,1,2,3,4,5,6,7,8,9,10,11,12,13,14,15,16,17,18,19],"paddingInner":0,"paddingOuter":0}},
   "color":{"field":"v","type":"quantitative","scale":{"domain":[0,12.5,37.5,62.5,87.5,100],"range":["#00008f","#0000ff","#00ffff","#ffff00","#ff0000","#800000"],"interpolate":"rgb"},"legend":null},
   "stroke":{"field":"v","type":"quantitative","scale":{"domain":[0,12.5,37.5,62.5,87.5,100],"range":["#00008f","#0000ff","#00ffff","#ffff00","#ff0000","#800000"],"interpolate":"rgb"},"legend":null}}},
  {"data":{"name":"ch0"},"mark":{"type":"rect","strokeWidth":0.5},"encoding":{
   "x":{"field":"x","type":"quantitative","scale":{"domain":[0,1],"nice":false,"zero":false},"axis":null},
   "x2":{"field":"x2"},
   "y":{"field":"y","type":"quantitative","scale":{"domain":[-0.8,0.8],"nice":false,"zero":false},"axis":null},
   "y2":{"field":"y2"},
   "color":{"field":"v","type":"quantitative","scale":{"domain":[0,12.5,37.5,62.5,87.5,100],"range":["#00008f","#0000ff","#00ffff","#ffff00","#ff0000","#800000"],"interpolate":"rgb"},"legend":null},
   "stroke":{"field":"v","type":"quantitative","scale":{"domain":[0,12.5,37.5,62.5,87.5,100],"range":["#00008f","#0000ff","#00ffff","#ffff00","#ff0000","#800000"],"interpolate":"rgb"},"legend":null}}},
  {"data":{"name":"frame"},"mark":{"type":"rect","fillOpacity":0,"stroke":"black","strokeWidth":1.5},"encoding":{
   "x":{"field":"x","type":"quantitative","scale":{"domain":[0,1],"nice":false,"zero":false},"axis":null},
   "x2":{"field":"x2"},
   "y":{"field":"y","type":"quantitative","scale":{"domain":[-0.8,0.8],"nice":false,"zero":false},"axis":null},
   "y2":{"field":"y2"}}}
 ],
 "resolve":{"scale":{"x":"independent","y":"independent"}}},
{"width":168,"height":169,"title":{"text":"alpha=0.90"},
 "layer":[
  {"data":{"name":"obst"},"mark":{"type":"rect"},"encoding":{
   "x":{"field":"x","type":"quantitative","scale":{"domain":[0,1],"nice":false,"zero":false},"axis":{"values":[0,0.5,1],"format":"~g","title":"x","labelFontSize":10,"titleFontSize":11,"labelPadding":10,"titlePadding":1,"tickSize":-4}},
   "x2":{"field":"x2"},
   "y":{"field":"y","type":"quantitative","scale":{"domain":[-0.8,0.8],"nice":false,"zero":false},"axis":{"values":[-0.5,0,0.5],"format":"~g","title":"y","labelFontSize":10,"titleFontSize":11,"labelPadding":17,"titlePadding":6,"tickSize":-4}},
   "y2":{"field":"y2"},
   "color":{"field":"v","type":"quantitative","scale":{"domain":[0,12.5,37.5,62.5,87.5,100],"range":["#00008f","#0000ff","#00ffff","#ffff00","#ff0000","#800000"],"interpolate":"rgb"},"legend":null}}},
  {"data":{"name":"a9"},"mark":{"type":"rect","strokeWidth":0.5},"encoding":{
   "x":{"field":"c","type":"ordinal","axis":null,"scale":{"domain":[0,1,2,3,4,5,6,7,8,9,10,11,12,13,14,15,16,17,18,19],"paddingInner":0,"paddingOuter":0}},
   "y":{"field":"r","type":"ordinal","axis":null,"scale":{"domain":[0,1,2,3,4,5,6,7,8,9,10,11,12,13,14,15,16,17,18,19],"paddingInner":0,"paddingOuter":0}},
   "color":{"field":"v","type":"quantitative","scale":{"domain":[0,12.5,37.5,62.5,87.5,100],"range":["#00008f","#0000ff","#00ffff","#ffff00","#ff0000","#800000"],"interpolate":"rgb"},"legend":null},
   "stroke":{"field":"v","type":"quantitative","scale":{"domain":[0,12.5,37.5,62.5,87.5,100],"range":["#00008f","#0000ff","#00ffff","#ffff00","#ff0000","#800000"],"interpolate":"rgb"},"legend":null}}},
  {"data":{"name":"ch9"},"mark":{"type":"rect","strokeWidth":0.5},"encoding":{
   "x":{"field":"x","type":"quantitative","scale":{"domain":[0,1],"nice":false,"zero":false},"axis":null},
   "x2":{"field":"x2"},
   "y":{"field":"y","type":"quantitative","scale":{"domain":[-0.8,0.8],"nice":false,"zero":false},"axis":null},
   "y2":{"field":"y2"},
   "color":{"field":"v","type":"quantitative","scale":{"domain":[0,12.5,37.5,62.5,87.5,100],"range":["#00008f","#0000ff","#00ffff","#ffff00","#ff0000","#800000"],"interpolate":"rgb"},"legend":null},
   "stroke":{"field":"v","type":"quantitative","scale":{"domain":[0,12.5,37.5,62.5,87.5,100],"range":["#00008f","#0000ff","#00ffff","#ffff00","#ff0000","#800000"],"interpolate":"rgb"},"legend":null}}},
  {"data":{"name":"frame"},"mark":{"type":"rect","fillOpacity":0,"stroke":"black","strokeWidth":1.5},"encoding":{
   "x":{"field":"x","type":"quantitative","scale":{"domain":[0,1],"nice":false,"zero":false},"axis":null},
   "x2":{"field":"x2"},
   "y":{"field":"y","type":"quantitative","scale":{"domain":[-0.8,0.8],"nice":false,"zero":false},"axis":null},
   "y2":{"field":"y2"}}}
 ],
 "resolve":{"scale":{"x":"independent","y":"independent"}}}
],
"config":{
 "view":{"stroke":null},
 "axis":{"labelFont":"Liberation Mono","labelFontWeight":"bold","labelColor":"black","titleFont":"Liberation Mono","titleFontWeight":"bold","titleColor":"black","domain":false,"grid":false,"tickColor":"black","tickWidth":1,"labelFlush":false,"labelOverlap":false,"zindex":1},
 "title":{"font":"Liberation Mono","fontWeight":"bold","fontSize":13,"color":"black","offset":6}
}
}
